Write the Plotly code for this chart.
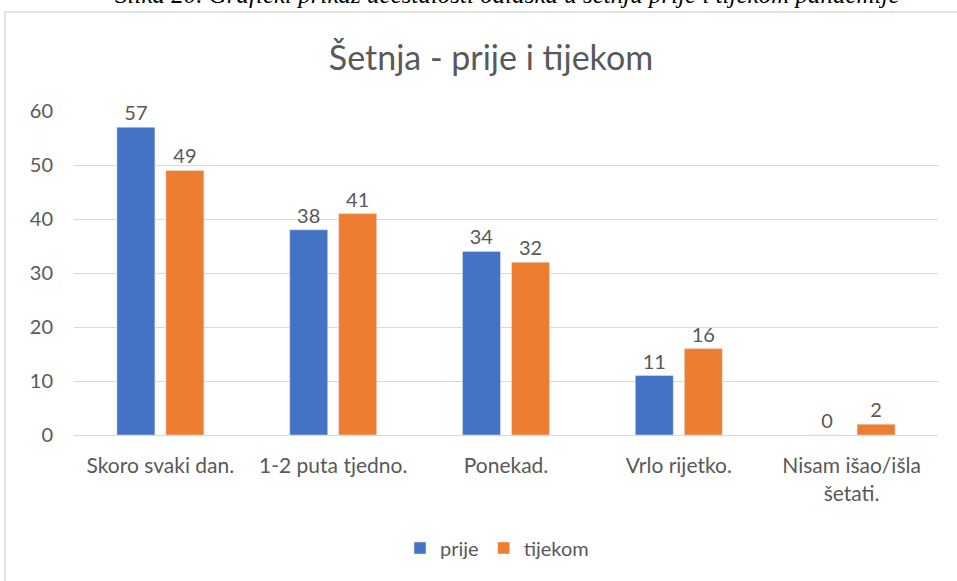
import plotly.graph_objects as go

categories = ["Skoro svaki dan.", "1-2 puta tjedno.", "Ponekad.", "Vrlo rijetko.", "Nisam išao/išla<br>šetati."]
prije = [57, 38, 34, 11, 0]
tijekom = [49, 41, 32, 16, 2]
series_names = ["prije", "tijekom"]
colors = ["#4472C4", "#ED7D31"]
title_text = "Šetnja - prije i tijekom"
caption_text = "Slika 20. Grafički prikaz učestalosti odlaska u šetnju prije i tijekom pandemije"
y_ticks = [0, 10, 20, 30, 40, 50, 60]

FONT = "Lato"
GRAY = "#595959"
FS = 20

fig = go.Figure()
for name, vals, col in zip(series_names, [prije, tijekom], colors):
    fig.add_trace(go.Bar(
        x=categories, y=vals, name=name, marker_color=col,
        text=[str(v) for v in vals], textposition="outside",
        textfont=dict(family=FONT, size=FS, color=GRAY),
        cliponaxis=False,
    ))

W, H = 957, 581
L, R, T, B = 74, 19, 111, 146
pw = W - L - R
ph = H - T - B

def px_x(p):
    return (p - L) / pw

def px_y(p):
    return (H - B - p) / ph

fig.update_layout(
    width=W, height=H,
    margin=dict(l=L, r=R, t=T, b=B),
    paper_bgcolor="white", plot_bgcolor="white",
    barmode="group", bargap=0.433, bargroupgap=0.224,
    font=dict(family=FONT, size=FS, color=GRAY),
    title=dict(text=title_text, x=px_x(491), xref="paper", xanchor="center",
               y=1 - 58 / H, yanchor="middle",
               font=dict(family=FONT, size=34, color=GRAY)),
    xaxis=dict(showgrid=False, showline=True, linecolor="#D9D9D9", linewidth=1,
               ticks="", ticklabelstandoff=12,
               tickfont=dict(family=FONT, size=21, color=GRAY)),
    yaxis=dict(range=[0, 60], tickvals=y_ticks, showgrid=True, gridcolor="#D9D9D9",
               gridwidth=1, zeroline=False, showline=False, ticks="",
               ticklabelstandoff=20,
               tickfont=dict(family=FONT, size=FS, color=GRAY)),
    legend=dict(orientation="h", x=px_x(497), xanchor="center", xref="paper",
                y=px_y(548), yanchor="middle",
                font=dict(family=FONT, size=FS, color=GRAY), itemwidth=30,
                traceorder="normal"),
    showlegend=True,
)

fig.add_shape(type="rect", xref="paper", yref="paper",
              x0=px_x(5), x1=px_x(1000), y0=px_y(700), y1=px_y(12),
              line=dict(color="#D9D9D9", width=1.5), fillcolor="rgba(0,0,0,0)",
              layer="below")

fig.add_annotation(text="<i>" + caption_text + "</i>", xref="paper", yref="paper",
                   x=px_x(507), y=px_y(10), xanchor="center", yanchor="bottom",
                   showarrow=False,
                   font=dict(family="Liberation Serif", size=25, color="#000000"))

fig.write_html("out.html", config={"displayModeBar": False},
               post_script="document.body.style.margin='0';document.body.style.overflow='hidden';")
